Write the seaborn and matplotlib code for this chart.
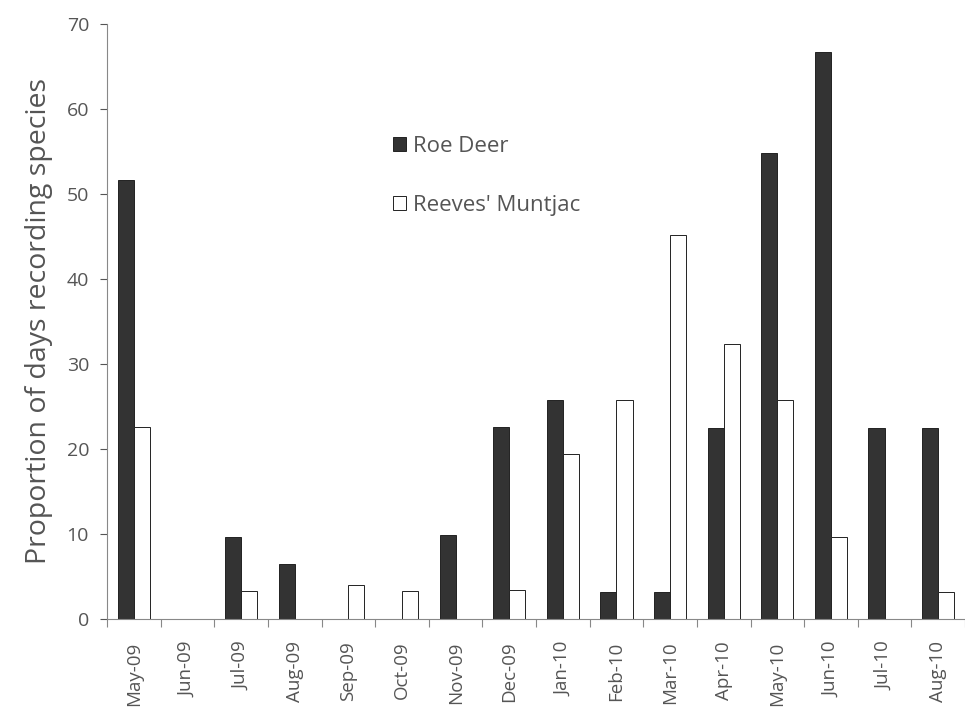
import numpy as np
import pandas as pd
import matplotlib
matplotlib.use('Agg')
import matplotlib.pyplot as plt
import seaborn as sns

# Data
months = ['May-09', 'Jun-09', 'Jul-09', 'Aug-09', 'Sep-09', 'Oct-09', 'Nov-09', 'Dec-09',
          'Jan-10', 'Feb-10', 'Mar-10', 'Apr-10', 'May-10', 'Jun-10', 'Jul-10', 'Aug-10']
roe_deer = [51.6, 0, 9.7, 6.5, 0, 0, 9.9, 22.6, 25.8, 3.2, 3.2, 22.5, 54.8, 66.7, 22.5, 22.5]
muntjac = [22.6, 0, 3.3, 0, 4.0, 3.3, 0, 3.4, 19.4, 25.8, 45.2, 32.3, 25.8, 9.7, 0, 3.2]
species = ['Roe Deer', "Reeves' Muntjac"]

df = pd.DataFrame({
    'month': months * 2,
    'value': roe_deer + muntjac,
    'species': [species[0]] * len(months) + [species[1]] * len(months),
})

sns.set_style('white')
plt.rcParams['font.family'] = ['Open Sans', 'DejaVu Sans']
text_col = '#555555'

fig = plt.figure(figsize=(9.65, 7.19), dpi=100)
ax = fig.add_axes([0.111, 0.139, 0.889, 0.828])

sns.barplot(data=df, x='month', y='value', hue='species', order=months,
            hue_order=species, palette={species[0]: '#333333', species[1]: 'white'},
            width=0.6, edgecolor='#222222', linewidth=0.7, ax=ax)

ax.set_ylim(0, 70)
ax.set_xlim(-0.5, 15.5)
ax.set_yticks(range(0, 71, 10))
ax.tick_params(axis='y', labelsize=14, colors=text_col, length=5, width=0.8,
               direction='out', left=True, pad=8)

# tick marks between categories, labels at centres
ax.set_xticks(np.arange(-0.5, 16, 1))
ax.set_xticklabels([])
ax.set_xticks(np.arange(16), minor=True)
ax.set_xticklabels(months, minor=True, rotation=90, fontsize=13.5, color=text_col)
ax.tick_params(axis='x', which='major', length=6, width=0.8, colors='#888888', direction='out', bottom=True)
ax.tick_params(axis='x', which='minor', length=0, pad=16)

ax.set_xlabel('')
ax.set_ylabel('Proportion of days recording species', fontsize=20.5, color=text_col, labelpad=10)

for s in ['top', 'right']:
    ax.spines[s].set_visible(False)
for s in ['left', 'bottom']:
    ax.spines[s].set_color('#888888')
    ax.spines[s].set_linewidth(0.8)

handles, labels = ax.get_legend_handles_labels()
ax.legend(handles, labels, loc='upper left', bbox_to_anchor=(0.31, 0.845), frameon=False,
          fontsize=16, labelcolor=text_col, labelspacing=1.7, handlelength=0.6,
          handleheight=0.6, handletextpad=0.3)

fig.savefig('out.png', dpi=100)
